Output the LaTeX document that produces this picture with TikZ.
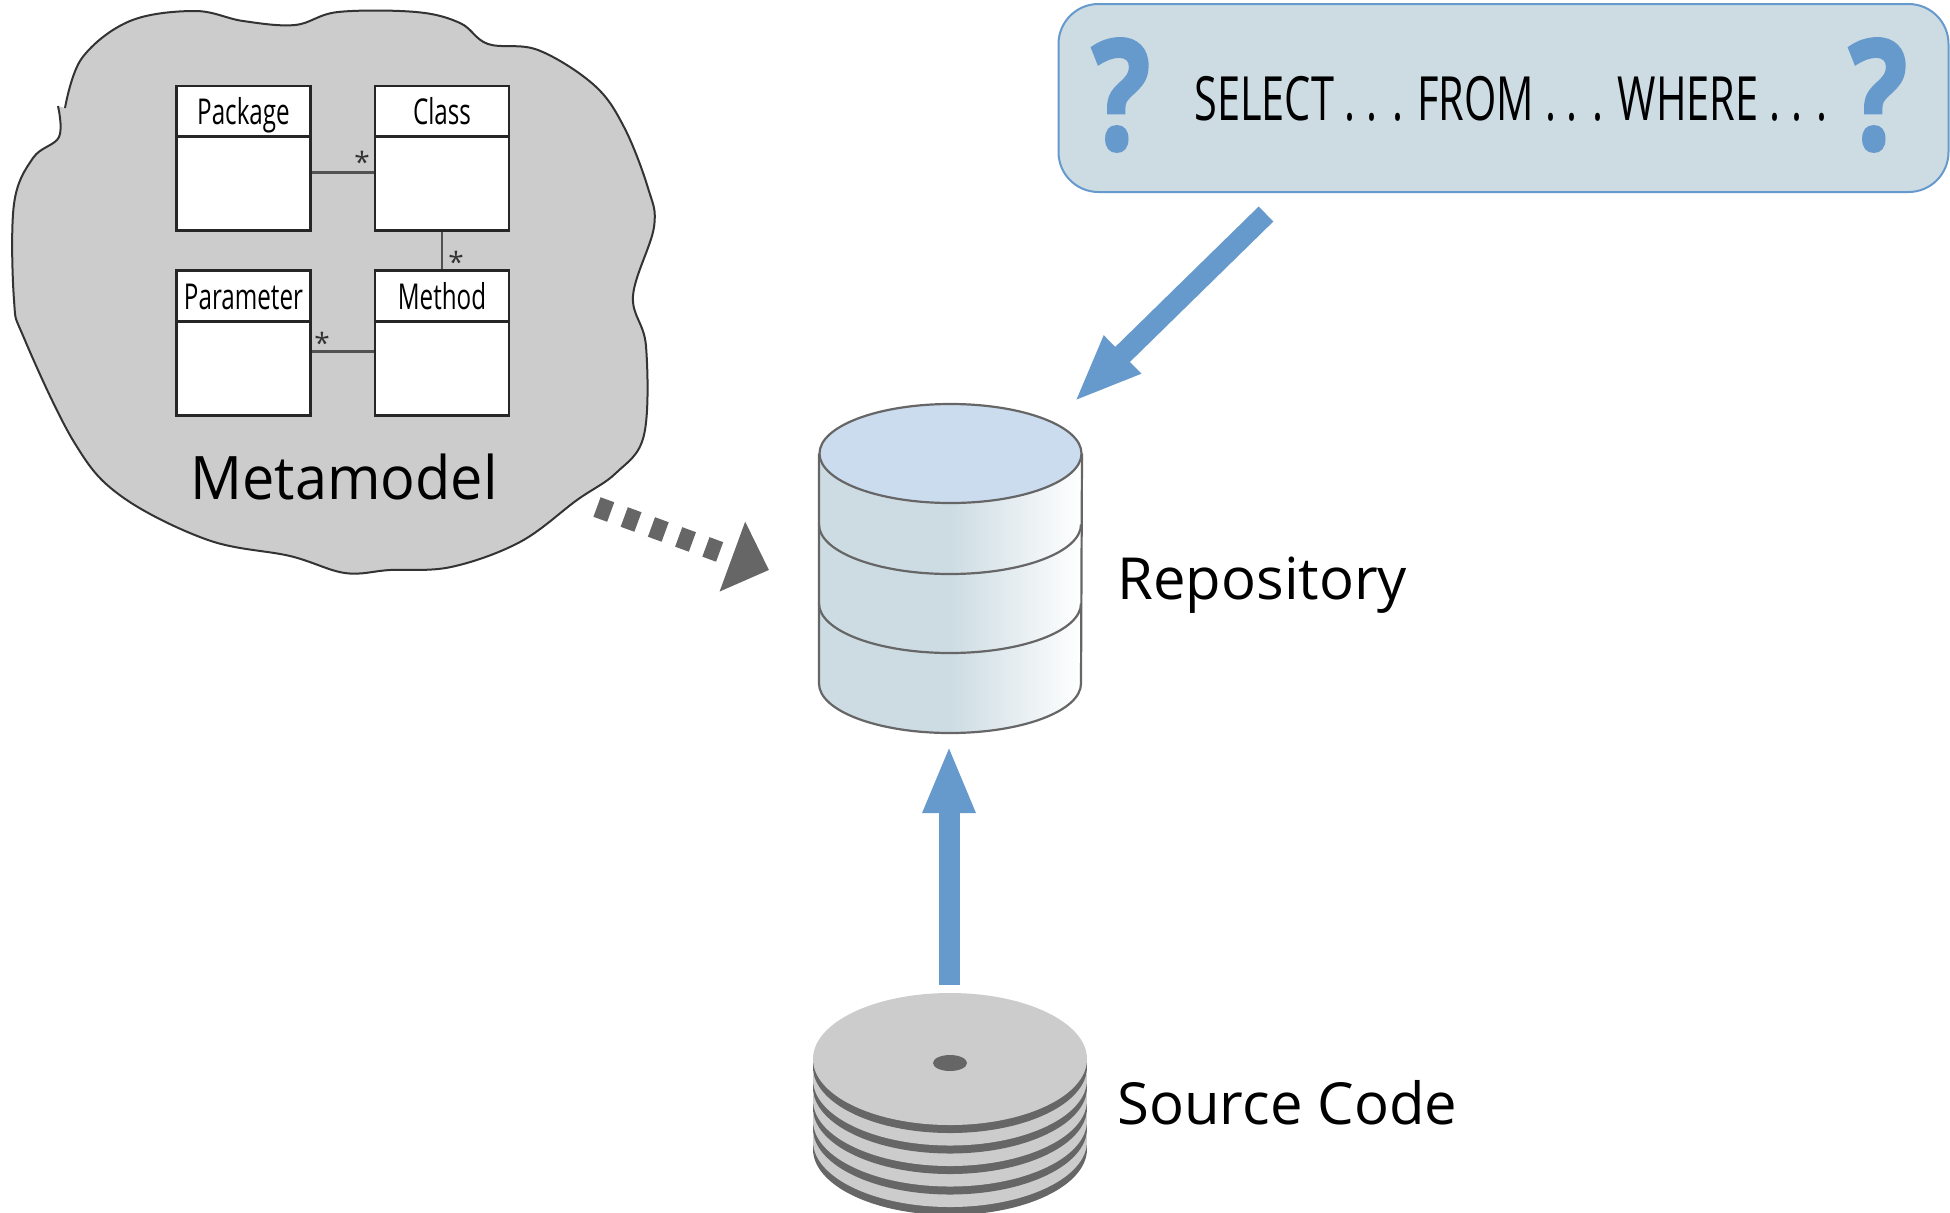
\documentclass[tikz,border=0pt]{standalone}
\usepackage{fontspec}
\usepackage{xcolor}
\usetikzlibrary{arrows.meta}
\setmainfont{Open Sans}
\newfontfamily\narrowfont[FakeStretch=0.68]{Open Sans}
\newfontfamily\markfont[FakeStretch=0.8,FakeBold=1.5]{Open Sans}
\newfontfamily\bigfont[FakeStretch=0.96]{Open Sans}
\definecolor{blobgray}{HTML}{CCCCCC}
\definecolor{darkgray}{HTML}{666666}
\definecolor{arrowblue}{HTML}{6699CC}
\definecolor{queryfill}{HTML}{CDDCE3}
\definecolor{repotop}{HTML}{CBDCEE}
\begin{document}
\begin{tikzpicture}[x=0.5pt,y=-0.5pt]
	\tikzstyle{umlhead} = [draw=black!85, fill=white, line width=1.2pt, inner sep=0pt, minimum width=67pt, minimum height=25.5pt, text height=13pt, text depth=0pt, font=\narrowfont\fontsize{17.8}{17.8}\selectfont]
	\tikzstyle{umlbody} = [draw=black!85, fill=white, line width=1.2pt, inner sep=0pt, minimum width=67pt, minimum height=47pt]
	\tikzstyle{umlline} = [draw=darkgray!80!black, line width=1.1pt]
	\tikzstyle{mult} = [inner sep=0pt, font=\fontsize{14}{14}\selectfont, text=black!80]
	\tikzstyle{textlabel} = [inner sep=0pt, anchor=base west, font=\fontsize{29}{29}\selectfont]
	\tikzstyle{querymark} = [inner sep=0pt, text=arrowblue, font=\markfont\bfseries\fontsize{77}{77}\selectfont]
	\tikzstyle{bluearrow} = [draw=arrowblue, line width=10.5pt, -{Triangle[length=34pt,width=24pt]}]
	\tikzstyle{grayarrow} = [draw=darkgray, line width=10.4pt, dash pattern=on 7.3pt off 7.2pt, -{Triangle[length=19.5pt,width=36pt]}]
	\tikzstyle{rim} = [draw=darkgray, line width=1.1pt]
	\useasboundingbox (0,0) rectangle (1950,1212);
	\filldraw [fill=blobgray, draw=black!80, line width=1pt] plot [smooth, tension=0.6] coordinates {
			(65,108) (82,58) (130,21) (195,11) (243,21) (295,25) (338,12) (416,12)
			(460,23) (488,44) (538,50) (594,85) (624,127) (648,188) (654,227)
			(633,296) (646,346) (644,435) (616,473) (577,500) (520,542) (451,567)
			(390,570) (345,573) (290,556) (208,540) (121,496) (74,442) (24,338)
			(14,300) (14,204) (33,158) (59,137) (58,106)};
	\node[umlhead] (package) at (243.5,111.5) {Package};
	\node[umlbody] (packagebody) at (243.5,183.5) {};
	\node[umlhead] (class) at (442,111.5) {Class};
	\node[umlbody] (classbody) at (442,183.5) {};
	\node[umlhead] (parameter) at (243.5,296) {Parameter};
	\node[umlbody] (parameterbody) at (243.5,368.5) {};
	\node[umlhead] (method) at (442,296) {Method};
	\node[umlbody] (methodbody) at (442,368.5) {};
	\draw[umlline] ([yshift=5.5pt]packagebody.east) -- ([yshift=5.5pt]classbody.west);
	\draw[umlline] (classbody.south) -- (method.north);
	\draw[umlline] ([yshift=8.5pt]parameterbody.east) -- ([yshift=8.5pt]methodbody.west);
	\node[mult] (manyclass) at (362,162) {*};
	\node[mult] (manymethod) at (456,262) {*};
	\node[mult] (manyparam) at (322,343) {*};
	\node[inner sep=0pt, anchor=base, font=\bigfont\fontsize{30}{30}\selectfont] (metamodel) at (344,499) {Metamodel};
	\node[draw=arrowblue, fill=queryfill, line width=1pt, rounded corners=20pt, inner sep=0pt, minimum width=445pt, minimum height=94pt] (query) at (1503.5,98) {};
	\node[querymark] (markleft) at (1121,95) {?};
	\node[querymark] (markright) at (1878,95) {?};
	\node[inner sep=0pt, anchor=base, font=\narrowfont\fontsize{30.5}{30.5}\selectfont] (select) at (1511,120) {SELECT . . . FROM . . . WHERE . . .};
	\coordinate (querytail) at (1266,214);
	\coordinate (repotip) at (1074,402);
	\draw[bluearrow] (querytail) -- (repotip);
	\shade [left color=queryfill, right color=white, middle color=queryfill] (819,453.5) -- (819,683.5) arc [start angle=180, end angle=360, x radius=65.5pt, y radius=24.75pt] -- (1082,453.5) -- cycle;
	\draw[rim] (819,453.5) -- (819,683.5) arc [start angle=180, end angle=360, x radius=65.5pt, y radius=24.75pt] -- (1082,453.5);
	\draw[rim] (819,524.5) arc [start angle=180, end angle=360, x radius=65.5pt, y radius=24.75pt];
	\draw[rim] (819,603.5) arc [start angle=180, end angle=360, x radius=65.5pt, y radius=24.75pt];
	\filldraw[rim, fill=repotop] (950.5,453.5) ellipse (65.5pt and 24.75pt);
	\node[textlabel] (repository) at (1117,599) {Repository};
	\foreach \y in {82,61.5,41,20.5,0} {
		\fill [darkgray] (950,1067+\y) ellipse (68.5pt and 33pt);
		\fill [blobgray] (950,1059+\y) ellipse (68.5pt and 33pt);
	}
	\fill [darkgray] (950,1063) ellipse (8.5pt and 4pt);
	\node[textlabel] (source) at (1117,1124) {Source Code};
	\coordinate (sourcetail) at (949,985);
	\coordinate (repobase) at (949,745);
	\draw[bluearrow] (sourcetail) -- (repobase);
	\coordinate (blobtail) at (597,507);
	\coordinate (repoleft) at (769,570);
	\draw[grayarrow] (blobtail) -- (repoleft);
\end{tikzpicture}
\end{document}
